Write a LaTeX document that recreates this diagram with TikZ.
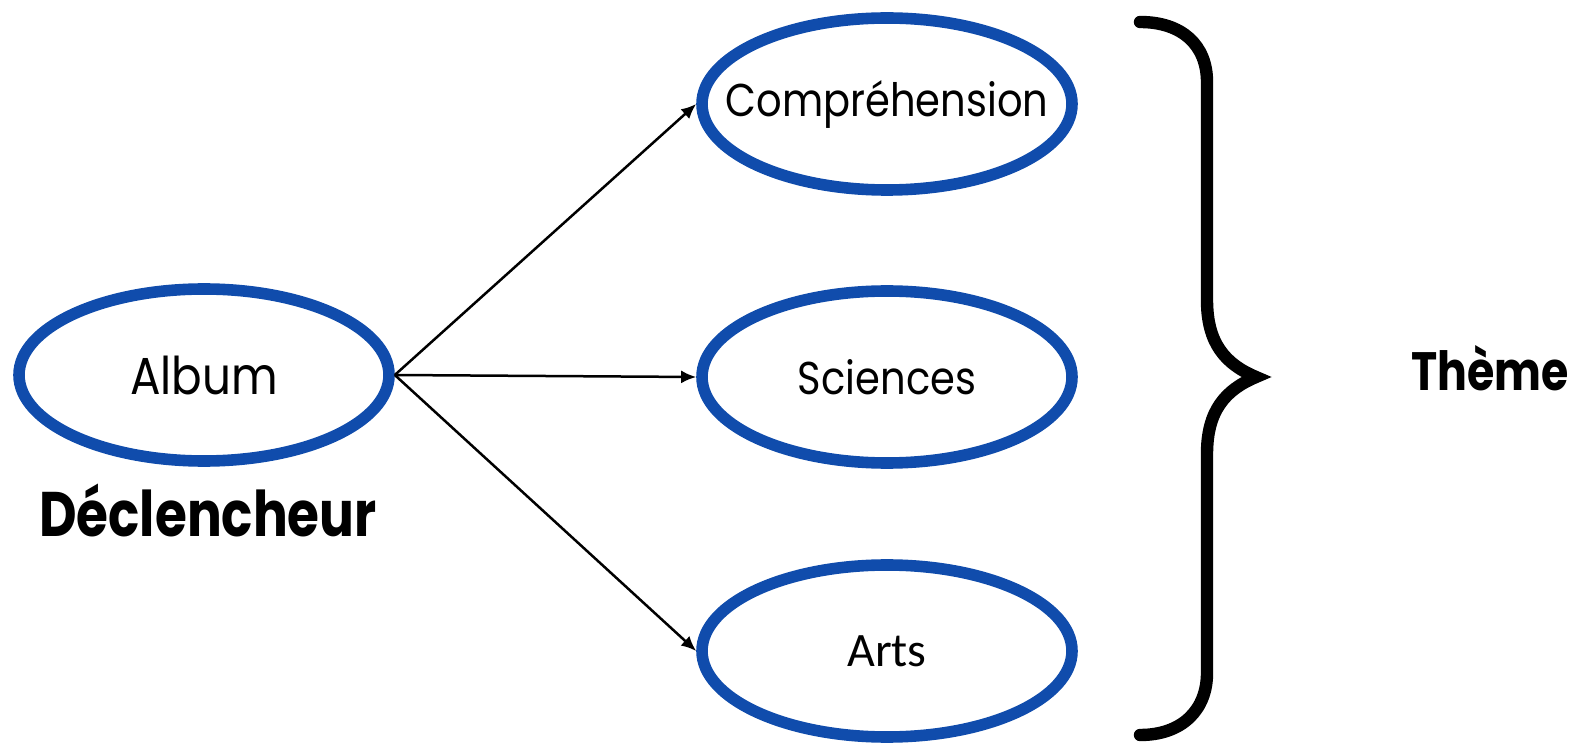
\documentclass[tikz,border=0pt]{standalone}
\usepackage{fontspec}
\setmainfont{Poppins}[FakeStretch=0.87]
\newfontfamily\grasfont{Poppins}[FakeStretch=0.82]
\newfontfamily\artsfont{Carlito}
\usetikzlibrary{shapes.geometric,arrows.meta}
\definecolor{bleuovale}{RGB}{16,76,172}

\begin{document}
\begin{tikzpicture}[x=0.5pt, y=-0.5pt,
		ovale/.style={ellipse, draw=bleuovale, line width=5.8pt, minimum width=185pt, minimum height=86pt, inner sep=0pt,
			execute at begin node={\hbox to 0pt\bgroup\hss}, execute at end node={\hss\egroup},
			font=\fontsize{23}{27}\selectfont},
		fleche/.style={-{Latex[length=7.5pt,width=6.5pt]}, line width=1.25pt},
		titre/.style={anchor=base, font=\grasfont\bfseries\fontsize{31.5}{36}\selectfont}]
		\useasboundingbox (0,0) rectangle (1581,743);
		
		% ovales
		\node[ovale, font=\fontsize{26}{30}\selectfont] (album) at (204,375) {Album};
		\node[ovale] (comp) at (887,104) {Compréhension};
		\node[ovale] (sciences) at (887,377) {Sciences};
		\node[ovale, font=\artsfont\fontsize{24}{28}\selectfont] (arts) at (887,651) {Arts};
		
		\foreach \cible in {comp, sciences, arts}
		{
			\draw[fleche] (album.east) -- (\cible.west);
		}
		
		% accolade
		\draw[line width=6.2pt, line cap=round] (1140,22) .. controls (1182,22) and (1207,45) .. (1207,82)
			-- (1207,300) .. controls (1207,343) and (1225,364) .. (1256,377)
			.. controls (1225,390) and (1207,411) .. (1207,454)
			-- (1207,673) .. controls (1207,710) and (1182,735) .. (1140,735);
		
		\node[titre] (declencheur) at (208,537) {Déclencheur};
		\node[titre, font=\grasfont\bfseries\fontsize{27}{32}\selectfont] (theme) at (1490,391) {Thème};
	\end{tikzpicture}
\end{document}
